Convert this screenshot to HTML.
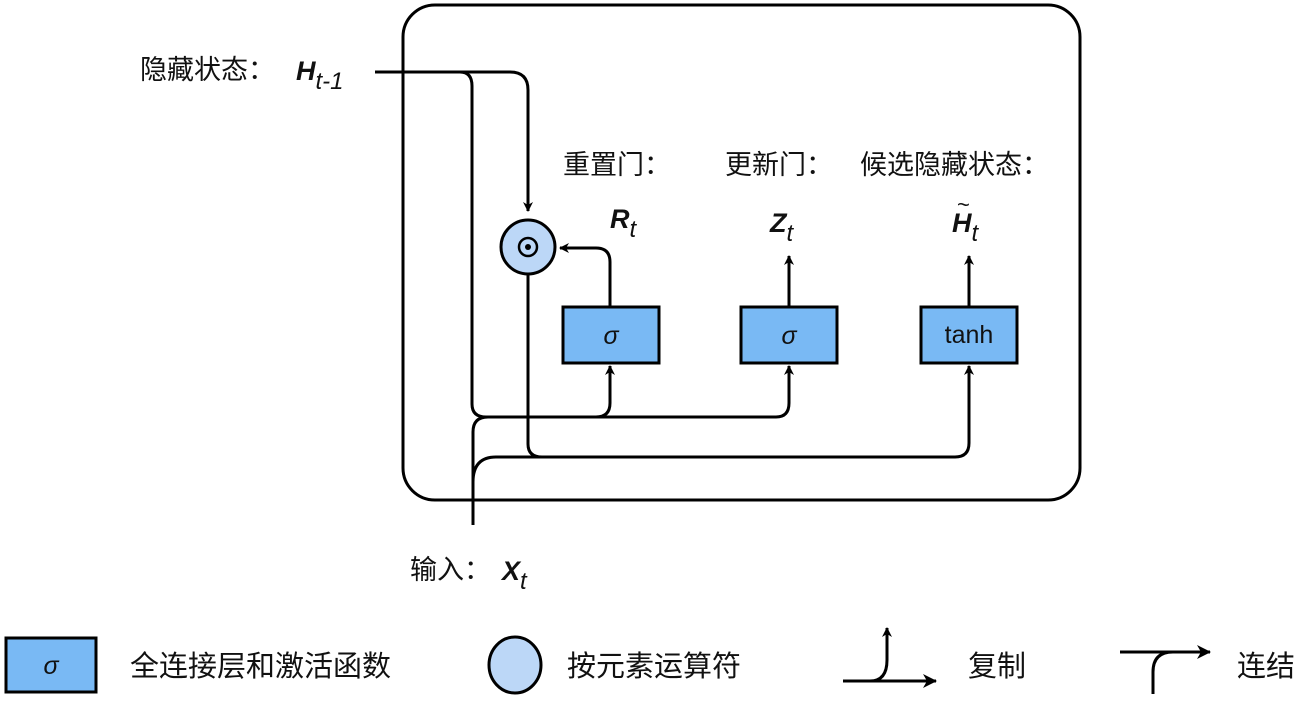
<!DOCTYPE html>
<html><head><meta charset="utf-8"><style>
html,body{margin:0;padding:0;background:#fff}
svg text{font-family:"Liberation Sans","Noto Sans CJK SC",sans-serif;fill:#111}
.cn{font-size:27px}
.lg{font-size:29px}
</style></head><body>
<svg width="1302" height="708" viewBox="0 0 1302 708" xmlns="http://www.w3.org/2000/svg">
<defs>
<marker id="a" markerWidth="10" markerHeight="10" refX="9" refY="5" orient="auto" markerUnits="userSpaceOnUse">
<path d="M0,0 L10,5 L0,10 L3,5 Z" fill="#000"/></marker>
<marker id="b" markerWidth="14" markerHeight="14" refX="13" refY="7" orient="auto" markerUnits="userSpaceOnUse">
<path d="M0,0 L14,7 L0,14 L4,7 Z" fill="#000"/></marker>
</defs>
<g fill="none" stroke="#000" stroke-width="3">
<rect x="403" y="5" width="677" height="495" rx="32"/>
<path d="M375,72 H510 Q528,72 528,90 V211" marker-end="url(#a)"/>
<path d="M460,72 Q472,72 472,86 V404 Q472,417 486,417 H596 Q610,417 610,403 V366" marker-end="url(#a)"/>
<path d="M596,417 H776 Q789,417 789,403 V366" marker-end="url(#a)"/>
<path d="M473,525 V432 Q473,417 488,417"/>
<path d="M473,482 Q473,457 496,457 H545"/>
<path d="M528,275 V444 Q528,457 542,457 H955 Q969,457 969,443 V366" marker-end="url(#a)"/>
<path d="M610,307 V262 Q610,248 596,248 H560" marker-end="url(#a)"/>
<path d="M789,307 V256" marker-end="url(#a)"/>
<path d="M969,307 V256" marker-end="url(#a)"/>
</g>
<circle cx="528" cy="247" r="27" fill="#bcd7f7" stroke="#000" stroke-width="3"/>
<circle cx="528" cy="247" r="9" fill="none" stroke="#000" stroke-width="2.5"/>
<circle cx="528" cy="247" r="3" fill="#000"/>
<g fill="#79b9f4" stroke="#000" stroke-width="3">
<rect x="563" y="307" width="96" height="56"/>
<rect x="741" y="307" width="96" height="56"/>
<rect x="921" y="307" width="96" height="56"/>
</g>
<text x="611" y="344" font-size="25" font-style="italic" text-anchor="middle">σ</text>
<text x="789" y="344" font-size="25" font-style="italic" text-anchor="middle">σ</text>
<text x="969" y="343" font-size="25" text-anchor="middle">tanh</text>
<text class="cn" x="563" y="174">重置门：</text>
<text class="cn" x="725" y="174">更新门：</text>
<text class="cn" x="860" y="174">候选隐藏状态：</text>
<text x="610" y="228" font-size="27" font-weight="bold" font-style="italic">R<tspan font-size="24" font-weight="normal" dy="9">t</tspan></text>
<text x="770" y="232" font-size="27" font-weight="bold" font-style="italic">Z<tspan font-size="24" font-weight="normal" dy="9">t</tspan></text>
<text x="952" y="232" font-size="27" font-weight="bold" font-style="italic">H<tspan font-size="24" font-weight="normal" dy="9">t</tspan></text>
<text x="957" y="212" font-size="22">~</text>
<text class="cn" x="140" y="79">隐藏状态：</text>
<text x="296" y="80" font-size="27" font-weight="bold" font-style="italic">H<tspan font-size="24" font-weight="normal" dy="9">t-1</tspan></text>
<text class="cn" x="410" y="579">输入：</text>
<text x="502" y="580" font-size="27" font-weight="bold" font-style="italic">X<tspan font-size="24" font-weight="normal" dy="9">t</tspan></text>
<rect x="6" y="638" width="90" height="54" fill="#79b9f4" stroke="#000" stroke-width="3"/>
<text x="51" y="674" font-size="25" font-style="italic" text-anchor="middle">σ</text>
<text class="lg" x="130" y="676">全连接层和激活函数</text>
<ellipse cx="515" cy="665" rx="26" ry="28" fill="#bcd7f7" stroke="#000" stroke-width="3"/>
<text class="lg" x="567" y="676">按元素运算符</text>
<g fill="none" stroke="#000" stroke-width="3">
<path d="M843,681 H936" marker-end="url(#b)"/>
<path d="M870,681 Q887,681 887,660 V628" marker-end="url(#a)"/>
<path d="M1120,652 H1210" marker-end="url(#b)"/>
<path d="M1153,694 V672 Q1153,652 1173,652"/>
</g>
<text class="lg" x="968" y="676">复制</text>
<text class="lg" x="1237" y="676">连结</text>
</svg>
</body></html>
